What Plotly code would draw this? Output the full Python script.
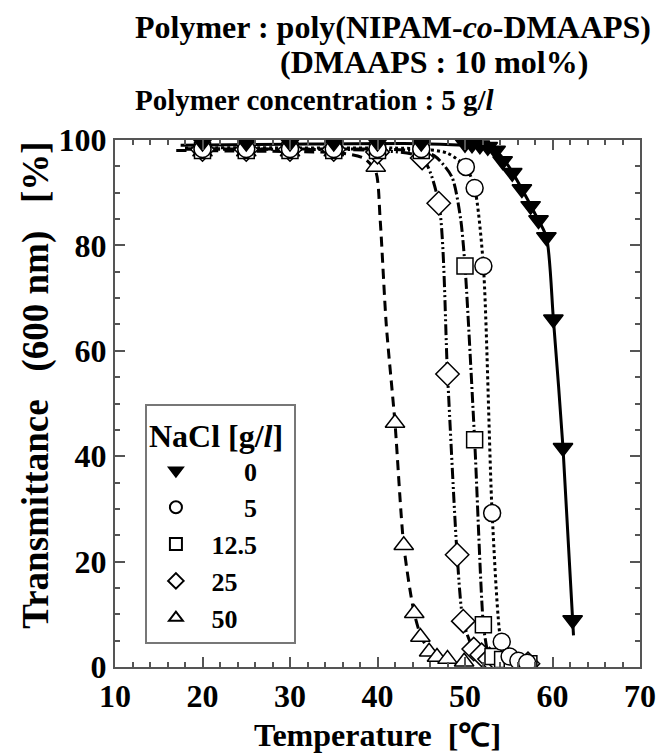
import plotly.graph_objects as go

# ---- data ----
NB = "\u00a0"
salt_labels = [NB * 6 + "0", NB * 6 + "5", NB + "12.5", NB + "25", NB + "50"]

# measured points
t_0 = [20, 25, 30, 35, 40, 45, 50, 50.8, 51.7, 52.6, 53.5, 54.3, 55.4, 56.5, 57.5, 58.4, 59.3, 60.1, 61.2, 62.3]
tr_0 = [99.5, 99.5, 99.5, 99.5, 99.5, 99.5, 99.3, 99.2, 99.0, 98.7, 98.0, 96.0, 93.8, 90.7, 87.5, 84.8, 81.6, 66.0, 41.6, 8.9]

t_5 = [20, 25, 30, 35, 40, 45, 50.1, 51.1, 52.1, 53.1, 54.2, 55.1, 56.1, 57.1]
tr_5 = [98.3, 98.3, 98.3, 98.3, 98.3, 98.3, 94.9, 90.9, 76.1, 29.2, 4.8, 2.0, 1.2, 0.8]

t_12 = [20, 25, 30, 35, 40, 45, 50.0, 51.1, 52.1, 53.2, 54.3, 55.4, 56.4, 57.3]
tr_12 = [98.0, 98.0, 98.0, 98.0, 98.0, 98.0, 76.1, 43.1, 8.0, 2.0, 1.4, 1.0, 0.8, 0.6]

t_25 = [20, 25, 30, 35, 40, 45.1, 47.0, 48.0, 49.1, 49.8, 51.0, 51.9, 52.8, 53.7, 54.5, 55.5, 57.2]
tr_25 = [98.2, 98.2, 98.2, 98.2, 97.7, 96.6, 88.0, 55.6, 21.3, 8.7, 3.4, 2.3, 1.5, 1.2, 1.0, 0.8, 0.6]

t_50 = [20, 25, 30, 35, 39.8, 42.0, 43.0, 44.2, 44.9, 45.9, 46.8, 48.0, 49.9, 55.1]
tr_50 = [97.8, 97.8, 97.8, 97.8, 94.9, 46.3, 23.1, 10.2, 5.7, 2.9, 1.9, 1.5, 1.0, 0.5]

# fitted curves (as drawn in the picture)
ct_0 = [17.5, 30, 45, 50, 52, 53.5, 55, 56.5, 58, 59.3, 60.1, 61.2, 62.4]
cy_0 = [99.0, 99.2, 99.3, 99.0, 98.8, 98.0, 95.0, 90.7, 86.0, 81.6, 66.0, 41.6, 6.0]

ct_5 = [18, 30, 45, 48, 50.1, 51.1, 52.1, 53.1, 54.1, 54.8]
cy_5 = [98.5, 98.5, 98.3, 97.5, 94.9, 90.9, 76.1, 29.2, 4.8, 1.5]

ct_12 = [18, 30, 44, 46.5, 48.5, 49.5, 50.0, 51.1, 52.1, 52.6]
cy_12 = [98.3, 98.3, 98.0, 97.0, 93.0, 85.0, 76.1, 43.1, 8.0, 2.5]

ct_25 = [18, 30, 40, 45.1, 47.0, 48.0, 49.1, 49.8, 51.0, 52.5]
cy_25 = [98.3, 98.2, 98.0, 96.6, 88.0, 55.6, 21.3, 8.7, 3.4, 1.8]

ct_50 = [17, 30, 36, 38.5, 39.8, 40.3, 41.0, 42.0, 43.0, 44.2, 45.2, 46.8, 48.5, 50.0]
cy_50 = [98.0, 97.8, 97.5, 96.5, 94.0, 85.0, 65.0, 46.3, 23.1, 10.2, 5.0, 2.2, 1.0, 0.4]

FONT = "Liberation Serif, Times New Roman, serif"

fig = go.Figure()

# curves first
curves = [
    (ct_50, cy_50, "10px,6px"),
    (ct_25, cy_25, "11px,3px,2px,3px,2px,3px"),
    (ct_12, cy_12, "11px,3px,2px,3px"),
    (ct_5, cy_5, "3px,3px"),
    (ct_0, cy_0, "solid"),
]
for cx, cy, dash in curves:
    fig.add_trace(go.Scatter(
        x=cx, y=cy, mode="lines",
        line=dict(color="black", width=3, dash=dash, shape="spline", smoothing=0.7),
        showlegend=False, hoverinfo="skip",
    ))

# markers (filled triangles drawn last so they sit on top)
series = [
    (t_50, tr_50, "triangle-up", "white", 17, salt_labels[4], 5),
    (t_25, tr_25, "diamond", "white", 18, salt_labels[3], 4),
    (t_12, tr_12, "square", "white", 16, salt_labels[2], 3),
    (t_5, tr_5, "circle", "white", 17, salt_labels[1], 2),
    (t_0, tr_0, "triangle-down", "black", 17, salt_labels[0], 1),
]
for tx, ty, sym, fill, sz, lab, rank in series:
    fig.add_trace(go.Scatter(
        x=tx, y=ty, mode="markers", name=lab, legendrank=rank,
        marker=dict(symbol=sym, size=sz, color=fill, line=dict(color="black", width=1.5)),
    ))

fig.update_layout(
    width=660, height=748,
    plot_bgcolor="white", paper_bgcolor="white",
    margin=dict(l=107, r=23, t=132, b=89),
    font=dict(family=FONT, size=32, color="black", weight="bold"),
    legend=dict(
        x=0.057, y=0.500, xanchor="left", yanchor="top",
        bgcolor="white", bordercolor="#777", borderwidth=2,
        title=dict(text="NaCl [g/<i>l</i>]" + NB, font=dict(size=32)),
        font=dict(size=26), tracegroupgap=0, itemsizing="constant", itemwidth=48,
    ),
    xaxis=dict(
        range=[10, 70], tickvals=[10, 20, 30, 40, 50, 60, 70],
        ticks="inside", ticklen=10, tickwidth=1.5, tickcolor="#555",
        minor=dict(dtick=2, ticks="inside", ticklen=5, tickwidth=1.5, tickcolor="#555"),
        showline=True, linecolor="#555", linewidth=2, mirror="allticks",
        showgrid=False, zeroline=False, tickfont=dict(size=32),
    ),
    yaxis=dict(
        range=[0, 100], tickvals=[0, 20, 40, 60, 80, 100],
        ticks="inside", ticklen=10, tickwidth=1.5, tickcolor="#555",
        minor=dict(dtick=5, ticks="inside", ticklen=5, tickwidth=1.5, tickcolor="#555"),
        showline=True, linecolor="#555", linewidth=2, mirror="allticks",
        showgrid=False, zeroline=False, tickfont=dict(size=32),
    ),
)

# axis titles and header lines
fig.add_annotation(text="Transmittance" + NB * 3 + "(600 nm)" + NB * 3 + "[%]", textangle=-90,
                   xref="paper", yref="paper", x=-0.151, y=0.535,
                   xanchor="center", yanchor="middle",
                   showarrow=False, font=dict(size=37))
fig.add_annotation(text="Temperature  [℃]",
                   xref="paper", yref="paper", x=0.5, y=-0.129,
                   xanchor="center", yanchor="middle",
                   showarrow=False, font=dict(size=32))
fig.add_annotation(text="Polymer : poly(NIPAM-<i>co</i>-DMAAPS)",
                   xref="paper", yref="paper", x=0.034, y=1.214,
                   xanchor="left", yanchor="middle",
                   showarrow=False, font=dict(size=32))
fig.add_annotation(text="(DMAAPS : 10 mol%)",
                   xref="paper", yref="paper", x=0.311, y=1.148,
                   xanchor="left", yanchor="middle",
                   showarrow=False, font=dict(size=32))
fig.add_annotation(text="Polymer concentration : 5 g/<i>l</i>",
                   xref="paper", yref="paper", x=0.034, y=1.076,
                   xanchor="left", yanchor="middle",
                   showarrow=False, font=dict(size=29))

fig.write_html("out.html")
